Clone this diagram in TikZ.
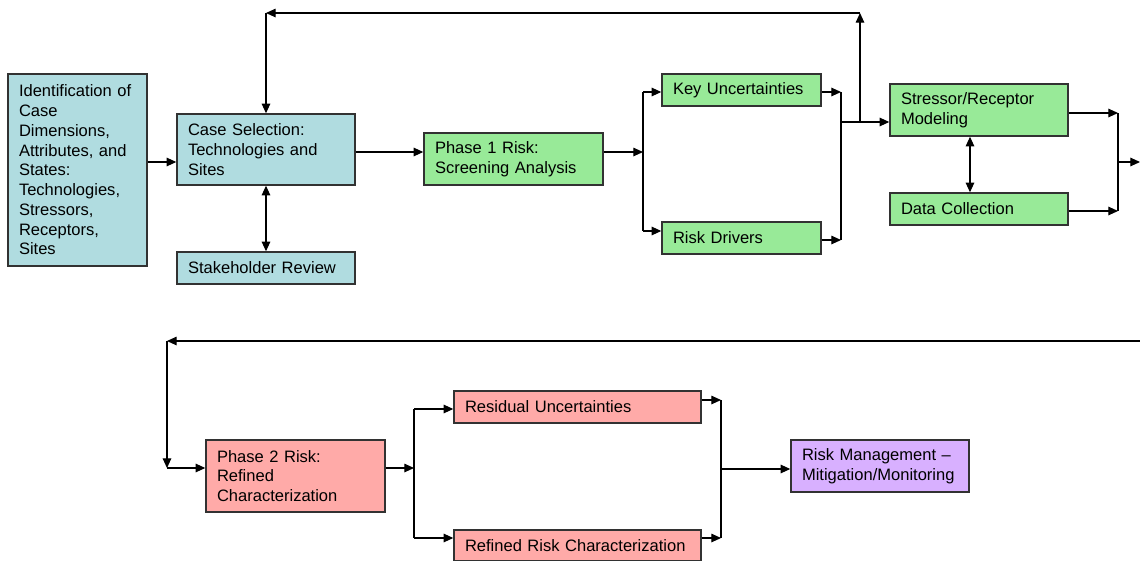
\documentclass[tikz,border=0pt]{standalone}
\usepackage{fontspec}
\setmainfont{Liberation Sans}
\usetikzlibrary{arrows.meta}
\definecolor{blueF}{RGB}{176,220,224}
\definecolor{greenF}{RGB}{152,234,152}
\definecolor{pinkF}{RGB}{255,170,168}
\definecolor{purpleF}{RGB}{216,176,255}
\definecolor{edge}{RGB}{50,50,50}
\newcommand\mybox[7]{%
 \pgfmathsetmacro\bw{(#4-#2)*0.75}%
 \pgfmathsetmacro\bh{(#5-#3)*0.75}%
 \pgfmathsetmacro\tw{(#4-#2-22)*0.75}%
 \node[#6, minimum width=\bw pt, minimum height=\bh pt, text width=\tw pt] (#1) at ({(#2+#4)/2},{(#3+#5)/2+1}) {#7};}
\begin{document}
\begin{tikzpicture}[x=0.75pt,y=-0.75pt,
  box/.style={draw=edge, line width=1.1pt, inner xsep=8.25pt, inner ysep=0pt, align=left,
    font=\fontsize{12.4}{14.8}\selectfont},
  bluebox/.style={box, fill=blueF},
  greenbox/.style={box, fill=greenF},
  pinkbox/.style={box, fill=pinkF},
  purplebox/.style={box, fill=purpleF},
  arr/.style={line width=0.8pt, -{Triangle[length=7.2pt,width=6.4pt]}},
  arr2/.style={line width=0.8pt, {Triangle[length=7.2pt,width=6.4pt]}-{Triangle[length=7.2pt,width=6.4pt]}},
  bar/.style={line width=1.6pt}]
\useasboundingbox (0,0) rectangle (1140,561);

\mybox{ident}{8}{73}{147}{265}{bluebox}{Identification~of\\Case\\Dimensions,\\Attributes,~and\\States:\\Technologies,\\Stressors,\\Receptors,\\Sites}
\mybox{case}{177}{113}{355}{184}{bluebox}{Case~Selection:\\Technologies~and\\Sites}
\mybox{stake}{177}{251}{355}{283}{bluebox}{Stakeholder~Review}
\mybox{ph1}{424}{132}{603}{184}{greenbox}{Phase~1~Risk:\\Screening~Analysis}
\mybox{ku}{662}{73}{821}{105}{greenbox}{Key~Uncertainties}
\mybox{rd}{662}{221}{821}{253}{greenbox}{Risk~Drivers}
\mybox{sr}{890}{83}{1068}{135}{greenbox}{Stressor/Receptor\\Modeling}
\mybox{dc}{890}{192}{1068}{224}{greenbox}{Data~Collection}
\mybox{ph2}{206}{439}{385}{511}{pinkbox}{Phase~2~Risk:\\Refined\\Characterization}
\mybox{res}{454}{390}{701}{422}{pinkbox}{Residual~Uncertainties}
\mybox{ref}{454}{529}{701}{560}{pinkbox}{Refined~Risk~Characterization}
\mybox{rm}{791}{439}{969}{491}{purplebox}{Risk~Management~--\\Mitigation/Monitoring}

% top row connectors
\coordinate (y1) at (0,162);
\draw[arr] (ident.east |- y1) -- (case.west |- y1);
\coordinate (ja) at (643,152);
\draw[arr] (case.east |- ja) -- (ph1.west |- ja);
\draw[arr] (ph1.east |- ja) -- (ja);
\coordinate (ja1) at (643,92);
\coordinate (ja2) at (643,231);
\draw[bar] (ja1) -- (ja2);
\draw[arr] (ja1) -- (ku.west |- ja1);
\draw[arr] (ja2) -- (rd.west |- ja2);
\coordinate (jb1) at (841,92);
\coordinate (jb2) at (841,240);
\coordinate (jb) at (841,122);
\draw[arr] (ku.east |- jb1) -- (jb1);
\draw[arr] (rd.east |- jb2) -- (jb2);
\draw[bar] (jb1) -- (jb2);
\draw[arr] (jb) -- (sr.west |- jb);
\coordinate (jc) at (860,122);
\coordinate (jt) at (860,13);
\coordinate (jl) at (266,13);
\draw[arr] (jc) -- (jt);
\draw[arr] (jt) -- (jl);
\draw[arr] (jl) -- (case.north -| jl);
\draw[arr2] (case.south) -- (stake.north);
\coordinate (jd) at (970,0);
\draw[arr2] (sr.south -| jd) -- (dc.north -| jd);
\coordinate (je1) at (1118,113);
\coordinate (je2) at (1118,211);
\coordinate (je) at (1118,162);
\coordinate (jeo) at (1140,162);
\draw[arr] (sr.east |- je1) -- (je1);
\draw[arr] (dc.east |- je2) -- (je2);
\draw[bar] (je1) -- (je2);
\draw[arr] (je) -- (jeo);

% bottom row connectors
\coordinate (jf) at (1140,341);
\coordinate (jg) at (167,341);
\coordinate (jh) at (167,468);
\draw[arr] (jf) -- (jg);
\draw[arr] (jg) -- (jh);
\draw[arr] (jh) -- (ph2.west |- jh);
\coordinate (jk) at (414,468);
\coordinate (jk1) at (414,409);
\coordinate (jk2) at (414,538);
\draw[arr] (ph2.east |- jk) -- (jk);
\draw[bar] (jk1) -- (jk2);
\draw[arr] (jk1) -- (res.west |- jk1);
\draw[arr] (jk2) -- (ref.west |- jk2);
\coordinate (jm1) at (721,400);
\coordinate (jm2) at (721,538);
\coordinate (jm) at (721,469);
\draw[arr] (res.east |- jm1) -- (jm1);
\draw[arr] (ref.east |- jm2) -- (jm2);
\draw[bar] (jm1) -- (jm2);
\draw[arr] (jm) -- (rm.west |- jm);
\end{tikzpicture}
\end{document}
